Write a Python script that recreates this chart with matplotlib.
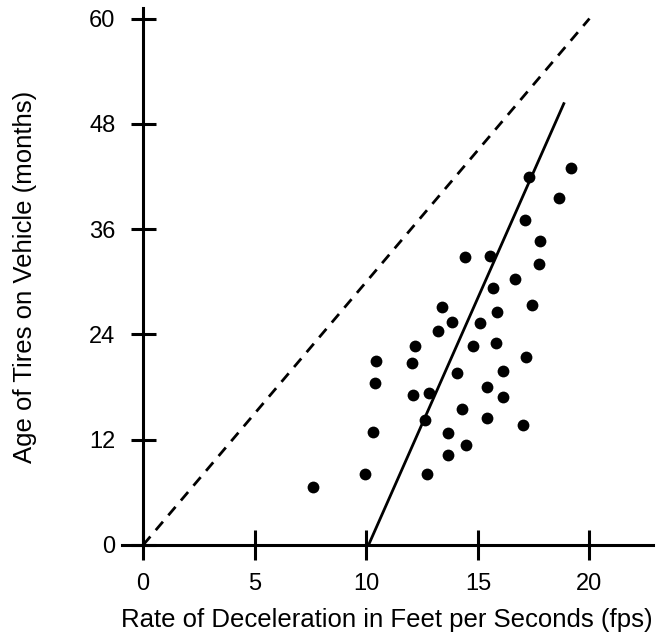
import matplotlib
matplotlib.use("Agg")
import matplotlib.pyplot as plt

# deceleration (fps) vs tire age (months)
decel = [7.63, 9.96, 12.71, 10.31, 13.64, 13.68, 12.62, 12.11, 12.83, 10.37,
         10.43, 12.06, 12.18, 13.21, 13.86, 13.41, 14.05, 14.31, 19.18, 17.30,
         18.65, 17.12, 17.80, 17.75, 14.41, 15.55, 16.65, 15.66, 17.43, 15.87,
         15.09, 14.79, 15.81, 17.16, 16.12, 15.43, 16.11, 15.43, 17.03, 14.46]
age = [6.6, 8.1, 8.13, 12.85, 10.26, 12.81, 14.25, 17.14, 17.37, 18.44,
       21.02, 20.79, 22.73, 24.37, 25.39, 27.10, 19.58, 15.55, 42.95, 41.93,
       39.53, 37.02, 34.66, 32.07, 32.80, 32.88, 30.37, 29.34, 27.33, 26.57,
       25.28, 22.69, 23.0, 21.44, 19.8, 17.98, 16.91, 14.52, 13.68, 11.40]

# reference line (age = 3 * decel) and fitted line
ref_x = [0, 20]
ref_y = [0, 60]
fit_x = [10.1, 18.85]
fit_y = [0, 50.3]

x_ticks = [0, 5, 10, 15, 20]
y_ticks = [0, 12, 24, 36, 48, 60]

plt.rcParams["font.family"] = ["Liberation Sans", "DejaVu Sans"]

fig = plt.figure(figsize=(6.58, 6.36), dpi=100)
ax = fig.add_axes([0.1847, 0.1431, 0.8078, 0.8443])

ax.plot(ref_x, ref_y, color="black", lw=2.0, ls=(0, (4, 3)))
ax.plot(fit_x, fit_y, color="black", lw=2.0)
ax.plot(decel, age, "o", color="black", ms=8.5, mew=0)

ax.set_xlim(-0.97, 22.85)
ax.set_ylim(0, 61.2)

for side in ("top", "right"):
    ax.spines[side].set_visible(False)
ax.spines["left"].set_position(("data", 0))
ax.spines["left"].set_linewidth(2.2)
ax.spines["bottom"].set_linewidth(2.2)

ax.set_xticks(x_ticks)
ax.set_yticks(y_ticks)
ax.tick_params(axis="x", direction="inout", length=22, width=2.2, pad=9,
               labelsize=17, colors="black")
ax.tick_params(axis="y", direction="inout", length=18, width=2.2, pad=11,
               labelsize=17, colors="black")

ax.set_xlabel("Rate of Deceleration in Feet per Seconds (fps)", fontsize=18.5)
ax.set_ylabel("Age of Tires on Vehicle (months)", fontsize=18.5)
ax.xaxis.set_label_coords(0.5, -0.117)
ax.yaxis.set_label_coords(-0.159, 0.5)

fig.savefig("out.png", dpi=100)
